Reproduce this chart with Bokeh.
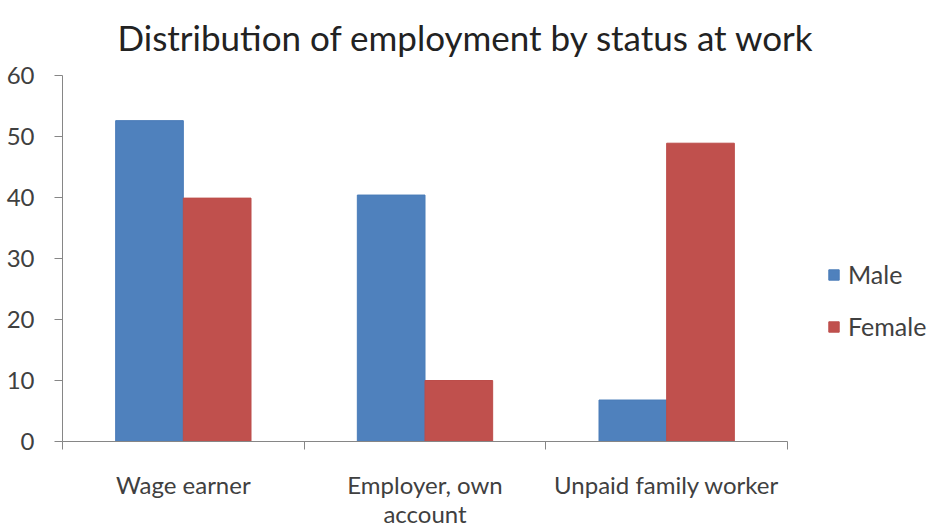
from bokeh.plotting import figure
from bokeh.models import Range1d, FixedTicker, Legend, LegendItem, ColumnDataSource
from bokeh.embed import file_html
from bokeh.resources import INLINE

title_text = "Distribution of employment by status at work"
categories = ["Wage earner", "Employer, own\naccount", "Unpaid family worker"]
male = [52.6, 40.4, 6.8]
female = [39.9, 10.0, 48.9]
y_ticks = [0, 10, 20, 30, 40, 50, 60]

FONT = "Lato"
TXT = "#404040"

centers = [i + 0.5 for i in range(len(categories))]
src_m = ColumnDataSource(dict(x=[c - 0.14 for c in centers], top=male))
src_f = ColumnDataSource(dict(x=[c + 0.14 for c in centers], top=female))

p = figure(width=933, height=527, output_backend="svg", toolbar_location=None,
           x_range=Range1d(0, len(categories)), y_range=Range1d(0, 60),
           frame_width=725, frame_height=366,
           min_border_left=62, min_border_right=0, min_border_top=75, min_border_bottom=86)

p.title.text = title_text
p.title.text_font = FONT
p.title.text_font_size = "35px"
p.title.text_font_style = "normal"
p.title.text_color = "#222222"
p.title.align = "left"
p.title.vertical_align = "top"
p.title.offset = 55
p.title.standoff = 31

rm = p.vbar(x="x", top="top", width=0.28, source=src_m, fill_color="#4F81BD", line_color="#4A7CB8")
rf = p.vbar(x="x", top="top", width=0.28, source=src_f, fill_color="#C0504D", line_color="#BC4D4A")

p.grid.visible = False
p.outline_line_color = None

# x axis
xa = p.xaxis[0]
xa.ticker = FixedTicker(ticks=centers, minor_ticks=list(range(len(categories) + 1)))
xa.major_label_overrides = {c: lab for c, lab in zip(centers, categories)}
xa.major_tick_out = 0
xa.major_tick_in = 0
xa.minor_tick_out = 8
xa.minor_tick_in = 0
xa.minor_tick_line_color = "#868686"
xa.axis_line_color = "#868686"
xa.major_label_text_font = FONT
xa.major_label_text_font_size = "24px"
xa.major_label_text_color = TXT
xa.major_label_text_line_height = 1.0
xa.major_label_standoff = 20

# y axis
ya = p.yaxis[0]
ya.ticker = FixedTicker(ticks=y_ticks)
ya.major_tick_out = 8
ya.major_tick_in = 0
ya.minor_tick_out = 0
ya.minor_tick_in = 0
ya.major_tick_line_color = "#868686"
ya.axis_line_color = "#868686"
ya.major_label_text_font = FONT
ya.major_label_text_font_size = "24px"
ya.major_label_text_color = TXT
ya.major_label_standoff = 20

legend = Legend(items=[LegendItem(label="Male", renderers=[rm]),
                       LegendItem(label="Female", renderers=[rf])],
                location=(40, 100))
legend.label_text_font = FONT
legend.label_text_font_size = "25px"
legend.label_text_color = TXT
legend.label_standoff = 8
legend.glyph_width = 13
legend.glyph_height = 13
legend.spacing = 22
legend.border_line_color = None
legend.background_fill_alpha = 0
p.add_layout(legend, "right")

open("out.html", "w").write(file_html(p, INLINE))
